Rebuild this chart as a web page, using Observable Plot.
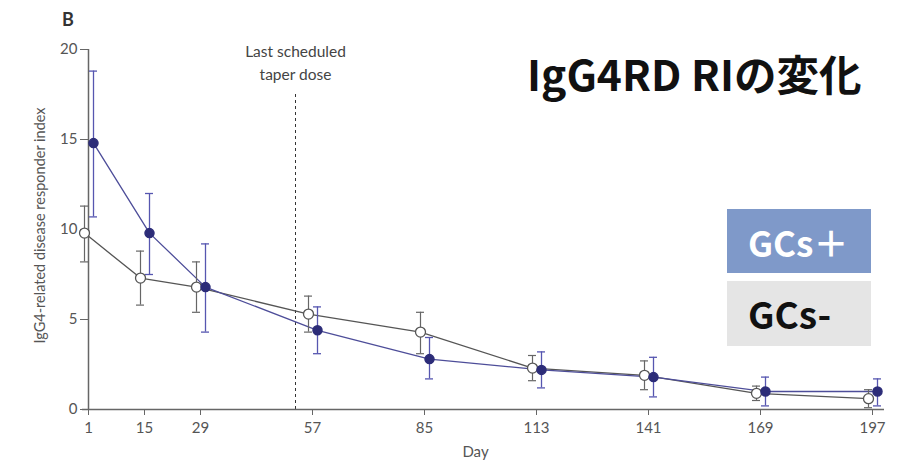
<!DOCTYPE html>
<html><head><meta charset="utf-8">
<script src="https://cdn.jsdelivr.net/npm/d3@7"></script>
<script src="https://cdn.jsdelivr.net/npm/@observablehq/plot@0.6"></script>
<style>
body{margin:0;background:#fff;}
#wrap{position:relative;width:910px;height:467px;overflow:hidden;}
#title{position:absolute;left:527px;top:52px;font-family:"Noto Sans CJK JP",sans-serif;font-weight:700;font-size:42.5px;line-height:1;color:#111;white-space:nowrap;}
.leg{position:absolute;left:727px;width:144px;display:flex;align-items:center;box-sizing:border-box;padding-left:21px;font-family:"Noto Sans CJK JP",sans-serif;font-weight:700;line-height:1;white-space:nowrap;}
#legP{top:209px;height:64px;background:#7f99c9;color:#fff;font-size:35px;}
#legM{top:281px;height:65px;background:#e5e5e5;color:#111;font-size:37px;}
#panel{position:absolute;left:62px;top:8px;font-family:Lato,sans-serif;font-weight:700;font-size:18px;color:#333;}
</style>
</head><body>
<div id="wrap"></div>
<script>
const days = [1, 15, 29, 57, 85, 113, 141, 169, 197];
const gcsPlusMean = [14.8, 9.8, 6.8, 4.4, 2.8, 2.2, 1.8, 1.0, 1.0];
const gcsPlusLow  = [10.7, 7.5, 4.3, 3.1, 1.7, 1.2, 0.7, 0.2, 0.2];
const gcsPlusHigh = [18.8, 12.0, 9.2, 5.7, 4.0, 3.2, 2.9, 1.8, 1.7];
const gcsMinusMean = [9.8, 7.3, 6.8, 5.3, 4.3, 2.3, 1.9, 0.9, 0.6];
const gcsMinusLow  = [8.2, 5.8, 5.4, 4.3, 3.1, 1.6, 1.1, 0.5, 0.1];
const gcsMinusHigh = [11.3, 8.8, 8.2, 6.3, 5.4, 3.0, 2.7, 1.3, 1.1];
const yTicks = [0, 5, 10, 15, 20];
const taperDay = 52.75;
const taperTop = 17.6;
const taperLabel = "Last scheduled\ntaper dose";
const yLabel = "IgG4-related disease responder index";
const xLabel = "Day";
const titleText = "IgG4RD RIの変化";
const legendPlus = "GCs＋";
const legendMinus = "GCs-";
const panelLabel = "B";

const plus = days.map((d, i) => ({day: d, mean: gcsPlusMean[i], low: gcsPlusLow[i], high: gcsPlusHigh[i]}));
const minus = days.map((d, i) => ({day: d, mean: gcsMinusMean[i], low: gcsMinusLow[i], high: gcsMinusHigh[i]}));

const font = "Lato, 'Open Sans', sans-serif";
const axisC = "#666";
const plusLine = "#4d4d99", plusDot = "#2c2c78", plusErr = "#5656b0";
const minusLine = "#555", minusErr = "#666";
const dxM = -4, dxP = 5;

const chart = Plot.plot({
  width: 910, height: 467,
  marginLeft: 88, marginRight: 38, marginTop: 49, marginBottom: 58,
  style: {fontFamily: font, fontSize: "15px", color: "#555", background: "transparent"},
  x: {domain: [1, 197]},
  y: {domain: [0, 20]},
  marks: [
    Plot.ruleX([taperDay], {y1: 0, y2: taperTop, stroke: "#333", strokeWidth: 1, strokeDasharray: "3,3"}),
    Plot.text([taperDay], {x: d => d, y: 20, text: () => taperLabel, fontSize: 15.5, lineHeight: 1.45, lineAnchor: "middle", dy: 12, fill: "#444"}),
    Plot.ruleX([1], {stroke: axisC, strokeWidth: 1.5}),
    Plot.ruleY([0], {stroke: axisC, strokeWidth: 1.5, insetLeft: -6, insetRight: -12}),
    Plot.axisY({ticks: yTicks, tickSize: 8, tickPadding: 3, stroke: axisC, label: null, fontSize: 15}),
    Plot.axisX({ticks: days, tickFormat: d => String(d), tickSize: 6, tickPadding: 7, stroke: axisC, label: null, fontSize: 15}),
    Plot.text([yLabel], {frameAnchor: "left", textAnchor: "middle", text: d => d, rotate: -90, dx: -48, dy: -4, fontSize: 14.5, fill: "#555"}),
    Plot.text([xLabel], {frameAnchor: "bottom", text: d => d, dx: -5, dy: 47, fontSize: 15, fill: "#555"}),
    Plot.line(minus, {x: "day", y: "mean", stroke: minusLine, strokeWidth: 1.3, dx: dxM}),
    Plot.line(plus, {x: "day", y: "mean", stroke: plusLine, strokeWidth: 1.3, dx: dxP}),
    Plot.ruleX(minus, {x: "day", y1: "low", y2: "high", stroke: minusErr, strokeWidth: 1.2, dx: dxM}),
    Plot.ruleY(minus, {y: "low", x1: "day", x2: "day", insetLeft: -4, insetRight: -4, stroke: minusErr, strokeWidth: 1.2, dx: dxM}),
    Plot.ruleY(minus, {y: "high", x1: "day", x2: "day", insetLeft: -4, insetRight: -4, stroke: minusErr, strokeWidth: 1.2, dx: dxM}),
    Plot.ruleX(plus, {x: "day", y1: "low", y2: "high", stroke: plusErr, strokeWidth: 1.3, dx: dxP}),
    Plot.ruleY(plus, {y: "low", x1: "day", x2: "day", insetLeft: -4, insetRight: -4, stroke: plusErr, strokeWidth: 1.3, dx: dxP}),
    Plot.ruleY(plus, {y: "high", x1: "day", x2: "day", insetLeft: -4, insetRight: -4, stroke: plusErr, strokeWidth: 1.3, dx: dxP}),
    Plot.dot(minus, {x: "day", y: "mean", r: 5, fill: "#fff", stroke: "#555", strokeWidth: 1.3, dx: dxM}),
    Plot.dot(plus, {x: "day", y: "mean", r: 4.5, fill: plusDot, stroke: plusDot, dx: dxP})
  ]
});

const wrap = document.getElementById("wrap");
wrap.appendChild(chart);
const add = (id, cls, txt) => { const e = document.createElement("div"); e.id = id; if (cls) e.className = cls; e.textContent = txt; wrap.appendChild(e); };
add("panel", null, panelLabel);
add("title", null, titleText);
add("legP", "leg", legendPlus);
add("legM", "leg", legendMinus);
</script>
</body></html>
